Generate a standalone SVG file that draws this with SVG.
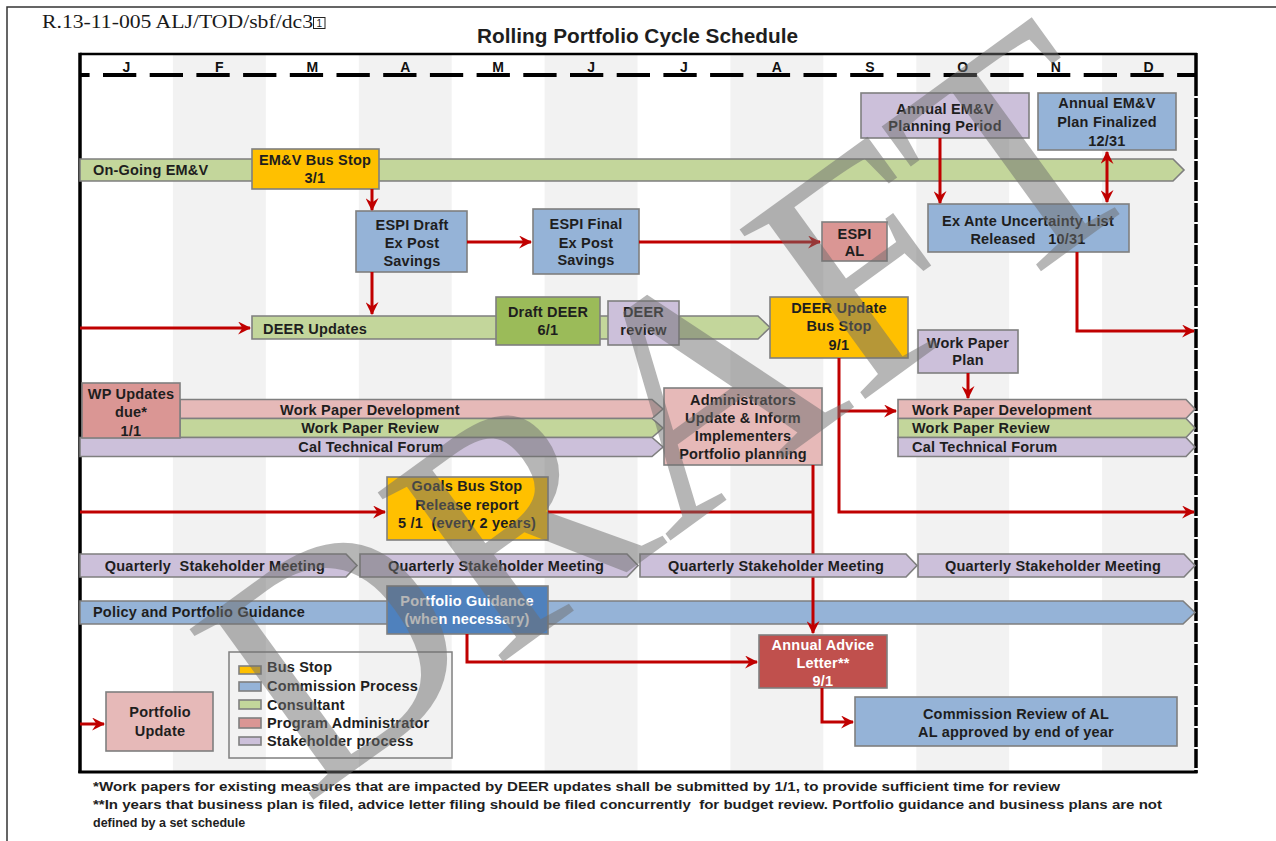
<svg xmlns="http://www.w3.org/2000/svg" width="1276" height="841" viewBox="0 0 1276 841">
<defs>
<style>
.t{font-family:"Liberation Sans",Arial,sans-serif;font-weight:bold;font-size:14.5px;fill:#1e1e1e;text-anchor:middle;letter-spacing:0.2px}
.l{text-anchor:start}
.w{fill:#ffffff}
.box{stroke:#7f7f7f;stroke-width:1.6}
.blue{fill:#95b3d7}.green{fill:#c3d69b}.dgreen{fill:#9bbb59}.yellow{fill:#ffc000}
.pink{fill:#e6b9b8}.rose{fill:#da9694}.lilac{fill:#ccc0da}.dblue{fill:#4f81bd}.red{fill:#c0504d}
.col{fill:#f2f2f2}
.mon{font-family:"Liberation Sans",Arial,sans-serif;font-weight:bold;font-size:14px;fill:#111;text-anchor:middle}
.c{fill:none;stroke:#c00000;stroke-width:3}
.fn{font-family:"Liberation Sans",Arial,sans-serif;font-weight:bold;font-size:12.5px;fill:#1e1e1e}
</style>
<marker id="ah" viewBox="0 0 12 12" refX="11" refY="6" markerWidth="13" markerHeight="13" markerUnits="userSpaceOnUse" orient="auto-start-reverse"><path d="M0,0 L12,6 L0,12 L4,6 Z" fill="#c00000"/></marker>
</defs>
<rect width="1276" height="841" fill="#ffffff"/>
<g id="page">
<path d="M7,841 V7 H1276" fill="none" stroke="#333" stroke-width="1.5"/>
<text x="42" y="28" font-family="Liberation Serif,'Times New Roman',serif" font-size="18.5" fill="#1a1a1a" textLength="271" lengthAdjust="spacingAndGlyphs">R.13-11-005  ALJ/TOD/sbf/dc3</text>
<rect x="313.5" y="17.5" width="11.5" height="11" fill="none" stroke="#222" stroke-width="1"/>
<text x="319.2" y="27" font-family="Liberation Sans,Arial,sans-serif" font-size="10" fill="#222" text-anchor="middle">1</text>
<text x="637.5" y="43" font-family="Liberation Sans,Arial,sans-serif" font-weight="bold" font-size="20" fill="#1e1e1e" text-anchor="middle" textLength="321" lengthAdjust="spacingAndGlyphs">Rolling Portfolio Cycle Schedule</text>
</g>
<g id="grid">
<rect class="col" x="172.9" y="54" width="92.9" height="718"/>
<rect class="col" x="358.8" y="54" width="92.9" height="718"/>
<rect class="col" x="544.6" y="54" width="92.9" height="718"/>
<rect class="col" x="730.4" y="54" width="92.9" height="718"/>
<rect class="col" x="916.3" y="54" width="92.9" height="718"/>
<rect class="col" x="1102.1" y="54" width="92.9" height="718"/>
<text class="mon" x="126.5" y="72">J</text>
<text class="mon" x="219.4" y="72">F</text>
<text class="mon" x="312.3" y="72">M</text>
<text class="mon" x="405.2" y="72">A</text>
<text class="mon" x="498.1" y="72">M</text>
<text class="mon" x="591.1" y="72">J</text>
<text class="mon" x="684" y="72">J</text>
<text class="mon" x="776.9" y="72">A</text>
<text class="mon" x="869.8" y="72">S</text>
<text class="mon" x="962.8" y="72">O</text>
<text class="mon" x="1055.7" y="72">N</text>
<text class="mon" x="1148.6" y="72">D</text>
<line x1="80" y1="75" x2="1195" y2="75" stroke="#000" stroke-width="4" stroke-dasharray="33.3 13.4" stroke-dashoffset="23.7"/>
<line x1="80" y1="54" x2="1197" y2="54" stroke="#000" stroke-width="2.5"/>
<line x1="80" y1="52.8" x2="80" y2="773" stroke="#000" stroke-width="3.5"/>
<line x1="78.3" y1="772" x2="1197.5" y2="772" stroke="#000" stroke-width="3"/>
<line x1="1196" y1="53" x2="1196" y2="77" stroke="#000" stroke-width="3.5"/>
<line x1="1196" y1="77" x2="1196" y2="773" stroke="#000" stroke-width="3.5" stroke-dasharray="19 2"/>
</g>
<g id="n-planning"><rect class="box lilac" x="861" y="93" width="168" height="45"/><text class="t" x="945" y="114">Annual EM&amp;V</text><text class="t" x="945" y="131">Planning Period</text></g>
<g id="n-planfinal"><rect class="box blue" x="1038" y="93" width="138" height="57"/><text class="t" x="1107" y="108">Annual EM&amp;V</text><text class="t" x="1107" y="127">Plan Finalized</text><text class="t" x="1107" y="146">12/31</text></g>
<g id="n-ongoing"><path class="box green" d="M80,159 H1173 L1184,170 L1173,181 H80 Z"/><text class="t l" x="93" y="175">On-Going EM&amp;V</text></g>
<g id="n-emvbus"><rect class="box yellow" x="252" y="149" width="127" height="40"/><text class="t" x="315" y="165">EM&amp;V Bus Stop</text><text class="t" x="315" y="183">3/1</text></g>
<g id="n-espidraft"><rect class="box blue" x="356" y="211" width="111" height="61"/><text class="t" x="412" y="230">ESPI Draft</text><text class="t" x="412" y="248">Ex Post</text><text class="t" x="412" y="266">Savings</text></g>
<g id="n-espifinal"><rect class="box blue" x="533" y="209" width="106" height="65"/><text class="t" x="586" y="229">ESPI Final</text><text class="t" x="586" y="248">Ex Post</text><text class="t" x="586" y="265">Savings</text></g>
<g id="n-espial"><rect class="box rose" x="822" y="222" width="65" height="39"/><text class="t" x="854.5" y="239">ESPI</text><text class="t" x="854.5" y="256">AL</text></g>
<g id="n-exante"><rect class="box blue" x="928" y="204" width="201" height="48"/><text class="t" x="1028" y="226">Ex Ante Uncertainty List</text><text class="t" x="1028" y="244" xml:space="preserve">Released   10/31</text></g>
<g id="n-deerupdates"><path class="box green" d="M252,316 H758 L770,327.5 L758,339 H252 Z"/><text class="t l" x="263" y="334">DEER Updates</text></g>
<g id="n-draftdeer"><rect class="box dgreen" x="496" y="297" width="104" height="48"/><text class="t" x="548" y="317">Draft DEER</text><text class="t" x="548" y="335">6/1</text></g>
<g id="n-deerreview"><rect class="box lilac" x="608" y="301" width="71" height="44"/><text class="t" x="643.5" y="317">DEER</text><text class="t" x="643.5" y="335">review</text></g>
<g id="n-deerbus"><rect class="box yellow" x="770" y="297" width="138" height="61"/><text class="t" x="839" y="313">DEER Update</text><text class="t" x="839" y="331">Bus Stop</text><text class="t" x="839" y="350">9/1</text></g>
<g id="n-wpplan"><rect class="box lilac" x="918" y="330" width="100" height="43"/><text class="t" x="968" y="348">Work Paper</text><text class="t" x="968" y="365">Plan</text></g>
<g id="n-wpright">
<path class="box pink" d="M898,399.5 H1186 L1195,409 L1186,418.5 H898 Z"/>
<path class="box green" d="M898,418.5 H1186 L1195,428 L1186,437.5 H898 Z"/>
<path class="box lilac" d="M898,437.5 H1186 L1195,447 L1186,456.5 H898 Z"/>
<text class="t l" x="912" y="415">Work Paper Development</text>
<text class="t l" x="912" y="433">Work Paper Review</text>
<text class="t l" x="912" y="452">Cal Technical Forum</text>
</g>
<g id="n-wpleft">
<path class="box pink" d="M180,399.5 H652 L663,409 L652,418.5 H180 Z"/>
<path class="box green" d="M180,418.5 H652 L663,428 L652,437.5 H180 Z"/>
<path class="box lilac" d="M80,437.5 H652 L663,447 L652,456.5 H80 Z"/>
<text class="t" x="370" y="415">Work Paper Development</text>
<text class="t" x="370" y="433">Work Paper Review</text>
<text class="t" x="371" y="452">Cal Technical Forum</text>
</g>
<g id="n-wpdue"><rect class="box rose" x="82" y="383" width="98" height="55"/><text class="t" x="131" y="399">WP Updates</text><text class="t" x="131" y="417">due*</text><text class="t" x="131" y="436">1/1</text></g>
<g id="n-admin"><rect class="box pink" x="664" y="388" width="158" height="77"/><text class="t" x="743" y="405">Administrators</text><text class="t" x="743" y="423">Update &amp; Inform</text><text class="t" x="743" y="441">Implementers</text><text class="t" x="743" y="459">Portfolio planning</text></g>
<g id="n-goals"><rect class="box yellow" x="387" y="477" width="161" height="63"/><text class="t" x="467" y="491">Goals Bus Stop</text><text class="t" x="467" y="510">Release report</text><text class="t" x="467" y="528" xml:space="preserve">5 /1  (every 2 years)</text></g>
<g id="n-quarterly">
<path class="box lilac" d="M80,554 H346 L357,565.5 L346,577 H80 Z"/>
<path class="box lilac" d="M360,554 H627 L638,565.5 L627,577 H360 Z"/>
<path class="box lilac" d="M640,554 H906 L917,565.5 L906,577 H640 Z"/>
<path class="box lilac" d="M918,554 H1184 L1195,565.5 L1184,577 H918 Z"/>
<text class="t" x="215" y="571" xml:space="preserve">Quarterly  Stakeholder Meeting</text>
<text class="t" x="496" y="571">Quarterly Stakeholder Meeting</text>
<text class="t" x="776" y="571">Quarterly Stakeholder Meeting</text>
<text class="t" x="1053" y="571">Quarterly Stakeholder Meeting</text>
</g>
<g id="n-policy"><path class="box blue" d="M80,601 H1183 L1195,612.5 L1183,624 H80 Z"/><text class="t l" x="93" y="617">Policy and Portfolio Guidance</text></g>
<g id="n-pguidance"><rect class="box dblue" x="387" y="586" width="161" height="48"/><text class="t w" x="467" y="606">Portfolio Guidance</text><text class="t w" x="467" y="624">(when necessary)</text></g>
<g id="n-advice"><rect class="box red" x="759" y="635" width="128" height="53"/><text class="t w" x="823" y="650">Annual Advice</text><text class="t w" x="823" y="668">Letter**</text><text class="t w" x="823" y="686">9/1</text></g>
<g id="n-review"><rect class="box blue" x="855" y="697" width="322" height="49"/><text class="t" x="1016" y="719">Commission Review of AL</text><text class="t" x="1016" y="737">AL approved by end of year</text></g>
<g id="n-pupdate"><rect class="box pink" x="106" y="692" width="107" height="59"/><text class="t" x="160" y="717">Portfolio</text><text class="t" x="160" y="736">Update</text></g>
<g id="legend">
<rect x="229" y="652" width="223" height="106" fill="none" stroke="#7f7f7f" stroke-width="1.5"/>
<rect class="box yellow" x="239" y="666" width="22" height="8"/>
<rect class="box blue" x="239" y="682" width="22" height="9"/>
<rect class="box green" x="239" y="700" width="22" height="9"/>
<rect class="box rose" x="239" y="718" width="22" height="10"/>
<rect class="box lilac" x="239" y="737" width="22" height="8"/>
<text class="t l" x="267" y="672">Bus Stop</text>
<text class="t l" x="267" y="691">Commission Process</text>
<text class="t l" x="267" y="710">Consultant</text>
<text class="t l" x="267" y="728">Program Administrator</text>
<text class="t l" x="267" y="746">Stakeholder process</text>
</g>
<g id="connectors">
<path class="c" d="M372,189 V210" marker-end="url(#ah)"/>
<path class="c" d="M467,242 H531" marker-end="url(#ah)"/>
<path class="c" d="M639,242 H820" marker-end="url(#ah)"/>
<path class="c" d="M940,138 V203" marker-end="url(#ah)"/>
<path class="c" d="M1107,152 V202" marker-start="url(#ah)" marker-end="url(#ah)"/>
<path class="c" d="M1077,252 V331 H1194" marker-end="url(#ah)"/>
<path class="c" d="M80,328 H250" marker-end="url(#ah)"/>
<path class="c" d="M372,272 V314" marker-end="url(#ah)"/>
<path class="c" d="M839,358 V512 H1194" marker-end="url(#ah)"/>
<path class="c" d="M839,411 H896" marker-end="url(#ah)"/>
<path class="c" d="M968,373 V398" marker-end="url(#ah)"/>
<path class="c" d="M80,512 H385" marker-end="url(#ah)"/>
<path class="c" d="M548,512 H813"/>
<path class="c" d="M813,465 V553.5"/>
<path class="c" d="M813,577.5 V633" marker-end="url(#ah)"/>
<path class="c" d="M467,634 V662 H757" marker-end="url(#ah)"/>
<path class="c" d="M822,688 V722 H853" marker-end="url(#ah)"/>
<path class="c" d="M80,724 H104" marker-end="url(#ah)"/>
</g>
<g id="footnotes">
<text class="fn" x="93" y="791" textLength="967" lengthAdjust="spacingAndGlyphs">*Work papers for existing measures that are impacted by DEER updates shall be submitted by 1/1, to provide sufficient time for review</text>
<text class="fn" x="93" y="809" textLength="1069" lengthAdjust="spacingAndGlyphs" xml:space="preserve">**In years that business plan is filed, advice letter filing should be filed concurrently  for budget review. Portfolio guidance and business plans are not</text>
<text class="fn" x="93" y="827">defined by a set schedule</text>
</g>
<g id="watermark" opacity="0.5">
<text x="0" y="0" transform="translate(733,495) rotate(-36)" text-anchor="middle" font-family="Liberation Serif,'Times New Roman',serif" font-size="322" fill="#6f6f6f">DRAFT</text>
</g>
</svg>
